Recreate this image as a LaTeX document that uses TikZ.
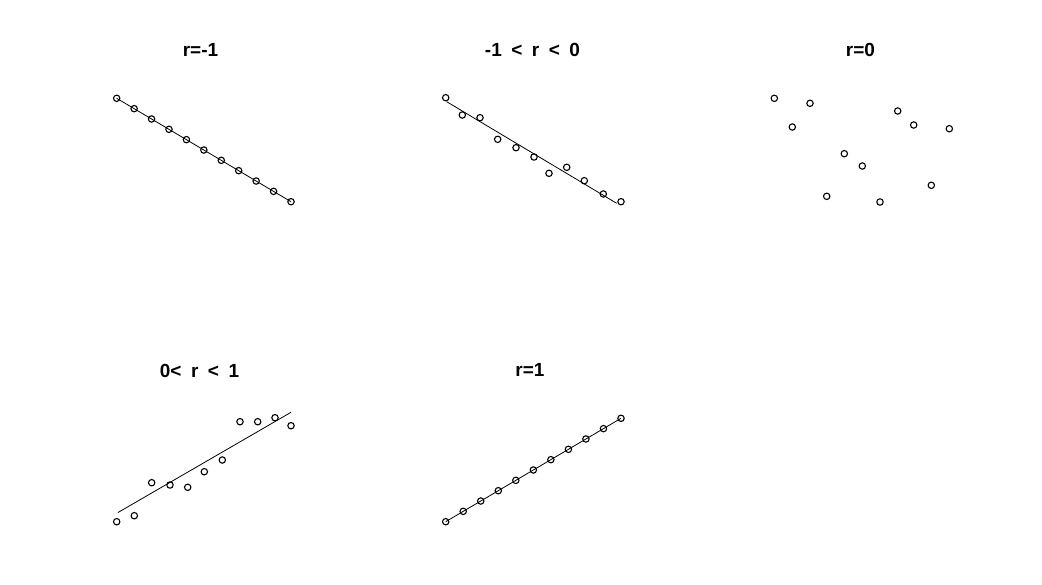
\documentclass[tikz,border=0pt]{standalone}
\usepackage{fontspec}
\setmainfont{Liberation Sans}
\newcommand\myttlfont{\bfseries\fontsize{19}{22}\selectfont\spaceskip=9.5pt\relax}
\begin{document}
\begin{tikzpicture}[x=1pt,y=-1pt,
  pt/.style={circle,draw=black,line width=1.1pt,inner sep=0pt,minimum size=6.4pt},
  fit/.style={draw=black,line width=0.8pt},
  ttl/.style={font=\myttlfont,inner sep=0pt,anchor=base}]
\useasboundingbox[fill=white] (0,0) rectangle (1042,584);
% titles
\node[ttl] (t1) at (200.5,56.5) {r=-1};
\node[ttl] (t2) at (532.5,56.8) {-1 < r < 0};
\node[ttl] (t3) at (860.5,56.5) {r=0};
\node[ttl] (t4) at (199.5,377.2) {0< r < 1};
\node[ttl] (t5) at (530,376.8) {r=1};
% panel 1
\coordinate (a1) at (116.7,98.3);
\coordinate (a11) at (291,201.7);
\draw[fit] (a1) -- (a11);
\foreach \i in {0,...,10}{
  \node[pt] (p1\i) at ({116.7+\i*17.43},{98.3+\i*10.34}) {};
}
% panel 2
\coordinate (b0) at (446.7,101.7);
\coordinate (b1) at (616.7,203.3);
\draw[fit] (b0) -- (b1);
\foreach \x/\y [count=\k] in {445.7/97.7,462.3/115,480/117.7,497.7/139.3,516/147.7,534/157,549/173.3,566.7/167.3,584.3/180.7,603.3/194,621/201.7}{
  \node[pt] (p2\k) at (\x,\y) {};
}
% panel 3
\foreach \x/\y [count=\k] in {774.3/98.3,810/103.3,792.3/127,897.7/111,913.7/125,949.3/128.7,844.3/153.7,862.3/166,931.3/185.3,826.7/196.3,880/202}{
  \node[pt] (p3\k) at (\x,\y) {};
}
% panel 4
\coordinate (d0) at (118,512.5);
\coordinate (d1) at (291,412.3);
\draw[fit] (d0) -- (d1);
\foreach \x/\y [count=\k] in {116.7/521.7,134.3/515.7,151.7/482.7,170/485,187.7/487.3,204.3/471.7,222.3/460,240/421.7,257.7/421.7,275/417.7,291/425.7}{
  \node[pt] (p4\k) at (\x,\y) {};
}
% panel 5
\coordinate (e1) at (445.7,521.7);
\coordinate (e11) at (621,418.3);
\draw[fit] (e1) -- (e11);
\foreach \i in {0,...,10}{
  \node[pt] (p5\i) at ({445.7+\i*17.53},{521.7-\i*10.34}) {};
}
\end{tikzpicture}
\end{document}
